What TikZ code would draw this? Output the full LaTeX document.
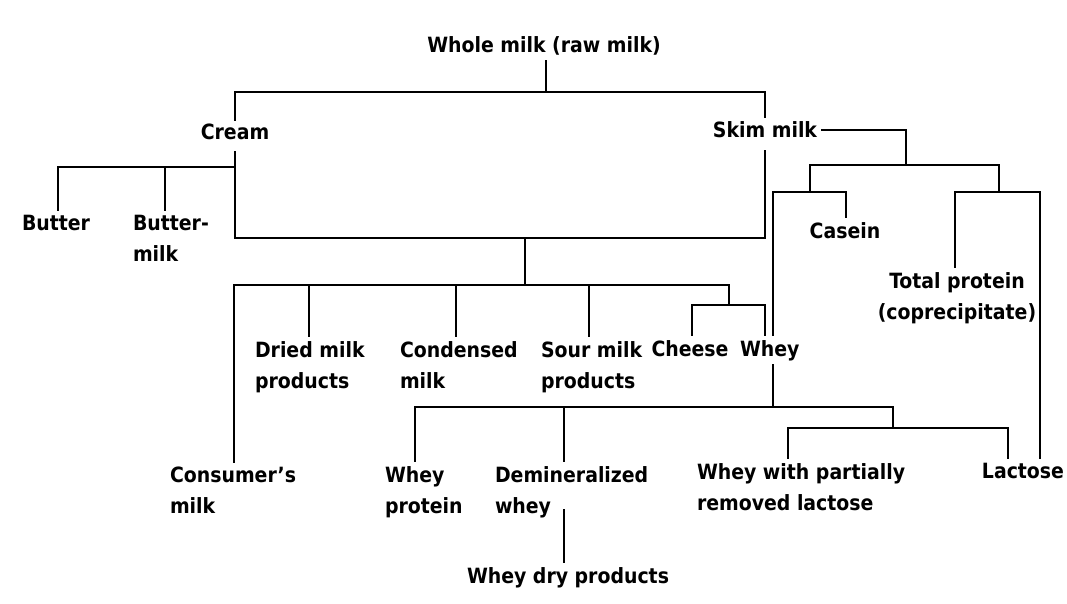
\documentclass[tikz,border=0pt]{standalone}
\usepackage{fontspec}
\newfontfamily\lblfont{DejaVuSansCondensed-Bold.ttf}
\begin{document}
\begin{tikzpicture}[x=1pt,y=-1pt,
  lbl/.style={inner sep=0pt,outer sep=5pt,font=\lblfont\fontsize{21}{31}\selectfont},
  ml/.style={lbl,align=left,anchor=base west},
  sl/.style={lbl,anchor=base},
  con/.style={line width=2.2pt,line cap=rect}]
\useasboundingbox[fill=white] (0,0) rectangle (1067,604);
% nodes
\node[sl] (whole) at (544,53) {Whole milk (raw milk)};
\node[sl] (cream) at (235,140) {Cream};
\node[sl] (skim) at (765,138) {Skim milk};
\node[ml] (butter) at (17,230) {Butter};
\node[ml] (buttermilk) at (128,261) {Butter-\\milk};
\node[sl] (casein) at (845,238) {Casein};
\node[lbl,align=center,anchor=base] (totprot) at (957,319) {Total protein\\(coprecipitate)};
\node[ml] (consumer) at (165,513) {Consumer’s\\milk};
\node[ml] (dried) at (250,388) {Dried milk\\products};
\node[ml] (condensed) at (395,388) {Condensed\\milk};
\node[ml] (sour) at (536,388) {Sour milk\\products};
\node[sl] (cheese) at (690,356) {Cheese};
\node[ml] (whey) at (735,356) {Whey};
\node[ml] (wheyprot) at (380,513) {Whey\\protein};
\node[ml] (demin) at (490,513) {Demineralized\\whey};
\node[ml] (wpart) at (692,510) {Whey with partially\\removed lactose};
\node[sl] (lactose) at (1023,478) {Lactose};
\node[ml] (wheydry) at (462,583) {Whey dry products};
% junctions
\coordinate (j1) at (546,92);
\coordinate (jb) at (235,167);
\coordinate (jb1) at (58,167);
\coordinate (jb2) at (165,167);
\coordinate (jbot) at (525,238);
\coordinate (jmid) at (525,285);
\coordinate (c1) at (234,285);
\coordinate (c2) at (309,285);
\coordinate (c3) at (456,285);
\coordinate (c4) at (589,285);
\coordinate (jcw) at (729,285);
\coordinate (jcw2) at (729,305);
\coordinate (ch) at (692,305);
\coordinate (wh) at (765,305);
\coordinate (js) at (906,165);
\coordinate (jL) at (810,165);
\coordinate (jR) at (999,165);
\coordinate (jwhey) at (773,192);
\coordinate (cs) at (846,192);
\coordinate (tp) at (955,192);
\coordinate (lc) at (1040,192);
\coordinate (jwb) at (773,407);
\coordinate (p1) at (415,407);
\coordinate (p2) at (564,407);
\coordinate (jwr) at (893,407);
\coordinate (jwr2) at (893,428);
\coordinate (q1) at (788,428);
\coordinate (q2) at (1008,428);
\coordinate (dw) at (564,510);
% connectors
\draw[con] (whole.south -| j1) -- (j1);
\draw[con] (cream.north) |- (j1) -| (skim.north);
\draw[con] ([yshift=-7pt]cream.south) |- (jbot) -| ([yshift=-8pt]skim.south);
\draw[con] (butter.north -| jb1) |- (jb);
\draw[con] (buttermilk.north -| jb2) -- (jb2);
\draw[con] (jbot) -- (jmid);
\draw[con] (consumer.north -| c1) |- (jcw) -- (jcw2);
\draw[con] (dried.north -| c2) -- (c2);
\draw[con] (condensed.north -| c3) -- (c3);
\draw[con] (sour.north -| c4) -- (c4);
\draw[con] (cheese.north -| ch) |- (jcw2) -| (whey.north -| wh);
\draw[con] (skim.east) -| (js);
\draw[con] (jL) -- (jR);
\draw[con] (jL) -- (jL |- jwhey);
\draw[con] (casein.north -| cs) |- (jwhey) -- (jwhey |- whey.north);
\draw[con] (jR) -- (jR |- tp);
\draw[con] (totprot.north -| tp) |- (lc) -- (lactose.north -| lc);
\draw[con] (whey.south -| jwhey) -- (jwb);
\draw[con] (wheyprot.north -| p1) |- (jwr) -- (jwr2);
\draw[con] (demin.north -| p2) -- (p2);
\draw[con] (wpart.north -| q1) |- (q2) -- (lactose.north -| q2);
\draw[con] (wheydry.north -| dw) -- (dw);
\end{tikzpicture}
\end{document}
